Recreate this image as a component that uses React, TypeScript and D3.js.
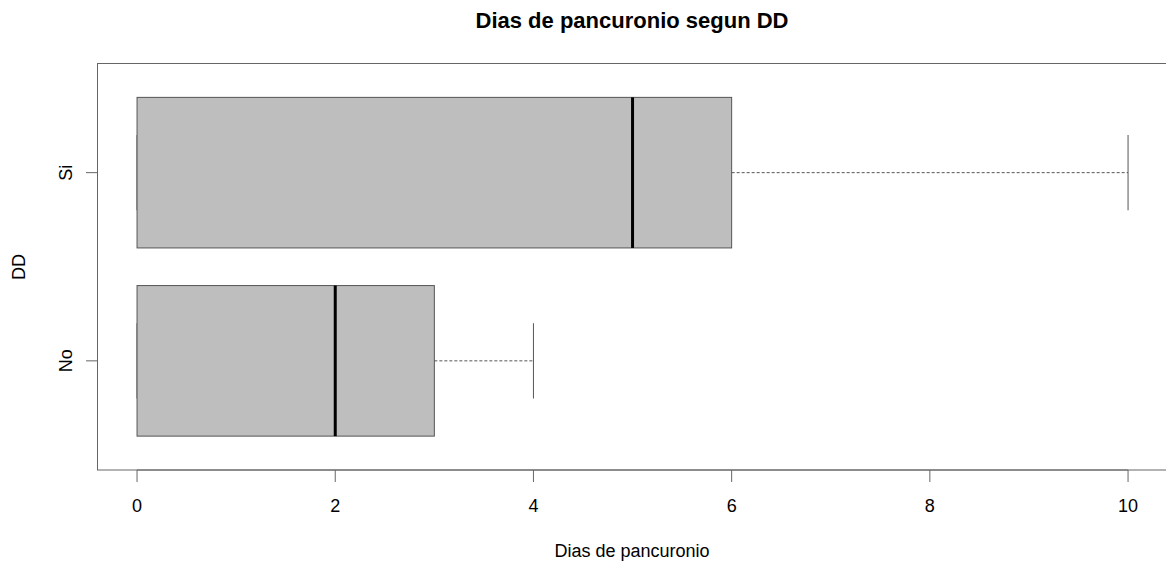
import React from "react";
import * as d3 from "d3";

const categories = ["No", "Si"];
const mins = [0, 0];
const q1s = [0, 0];
const medians = [2, 5];
const q3s = [3, 6];
const maxs = [4, 10];
const xTicks = [0, 2, 4, 6, 8, 10];

const W = 1166;
const H = 563;
const FONT = "Liberation Sans, Arial, Helvetica, sans-serif";

export default function App() {
  const x = d3.scaleLinear().domain([-0.4, 10.4]).range([97.4, 1167.7]);
  const y = d3.scaleLinear().domain([0.42, 2.58]).range([470, 63.5]);
  const boxHalf = 0.4;
  const capHalf = 0.2;
  const stroke = "#555";

  return (
    <svg width={W} height={H} style={{ position: "absolute", left: 0, top: 0 }} fontFamily={FONT}>
      <rect x={0} y={0} width={W} height={H} fill="#fff" />
      <text x={632} y={28} textAnchor="middle" fontSize={22} fontWeight="bold" fill="#000">
        Dias de pancuronio segun DD
      </text>
      {categories.map((c, i) => {
        const pos = i + 1;
        const yc = y(pos);
        const yt = y(pos + boxHalf);
        const yb = y(pos - boxHalf);
        return (
          <g key={c}>
            <line x1={x(q3s[i])} x2={x(maxs[i])} y1={yc} y2={yc} stroke={stroke} strokeDasharray="3,2" strokeWidth={1} />
            <line x1={x(mins[i])} x2={x(q1s[i])} y1={yc} y2={yc} stroke={stroke} strokeDasharray="3,2" strokeWidth={1} />
            <line x1={x(maxs[i])} x2={x(maxs[i])} y1={y(pos + capHalf)} y2={y(pos - capHalf)} stroke={stroke} strokeWidth={1} />
            <line x1={x(mins[i])} x2={x(mins[i])} y1={y(pos + capHalf)} y2={y(pos - capHalf)} stroke={stroke} strokeWidth={1} />
            <rect x={x(q1s[i])} y={yt} width={x(q3s[i]) - x(q1s[i])} height={yb - yt} fill="#bebebe" stroke={stroke} strokeWidth={1} />
            <line x1={x(medians[i])} x2={x(medians[i])} y1={yt} y2={yb} stroke="#000" strokeWidth={3} />
          </g>
        );
      })}
      <rect x={97.5} y={63.5} width={1167.7 - 97.5} height={470 - 63.5} fill="none" stroke="#666" strokeWidth={1} />
      {xTicks.map((t) => (
        <g key={t}>
          <line x1={x(t)} x2={x(t)} y1={470} y2={482} stroke="#666" />
          <text x={x(t)} y={511.5} textAnchor="middle" fontSize={18} fill="#000">{t}</text>
        </g>
      ))}
      <line x1={x(0)} x2={x(10)} y1={470} y2={470} stroke="#666" />
      {categories.map((c, i) => (
        <g key={c}>
          <line x1={86} x2={97.5} y1={y(i + 1)} y2={y(i + 1)} stroke="#666" />
          <text transform={`translate(71.5,${y(i + 1)}) rotate(-90)`} textAnchor="middle" fontSize={18} fill="#000">{c}</text>
        </g>
      ))}
      <text x={632} y={556.5} textAnchor="middle" fontSize={18} fill="#000">Dias de pancuronio</text>
      <text transform={`translate(24.5,267) rotate(-90)`} textAnchor="middle" fontSize={18} fill="#000">DD</text>
    </svg>
  );
}
